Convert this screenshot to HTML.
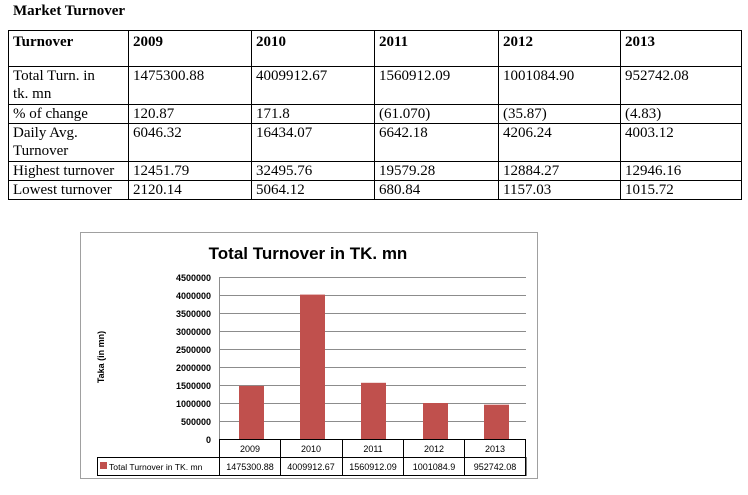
<!DOCTYPE html>
<html><head><meta charset="utf-8"><style>
body{margin:0;width:748px;height:495px;background:#fff;position:relative;overflow:hidden;font-family:"Liberation Serif",serif;}
.t{position:absolute;left:13px;top:3px;font-weight:bold;font-size:15px;}
table{position:absolute;left:8px;top:30px;border-collapse:collapse;font-size:15px;line-height:18px;}
td{border:1px solid #000;vertical-align:top;padding:0 0 0 4px;}
</style></head><body>
<div class="t">Market Turnover</div>
<table>
<colgroup><col style="width:120px"><col style="width:123px"><col style="width:123px"><col style="width:124px"><col style="width:122px"><col style="width:121px"></colgroup>
<tr style="height:36px;font-weight:bold"><td style="padding-top:2px">Turnover</td><td style="padding-top:2px">2009</td><td style="padding-top:2px">2010</td><td style="padding-top:2px">2011</td><td style="padding-top:2px">2012</td><td style="padding-top:2px">2013</td></tr>
<tr style="height:38px"><td>Total Turn. in<br>tk. mn</td><td>1475300.88</td><td>4009912.67</td><td>1560912.09</td><td>1001084.90</td><td>952742.08</td></tr>
<tr style="height:18px"><td>% of change</td><td>120.87</td><td>171.8</td><td>(61.070)</td><td>(35.87)</td><td>(4.83)</td></tr>
<tr style="height:38px"><td>Daily Avg.<br>Turnover</td><td>6046.32</td><td>16434.07</td><td>6642.18</td><td>4206.24</td><td>4003.12</td></tr>
<tr style="height:19px"><td>Highest turnover</td><td>12451.79</td><td>32495.76</td><td>19579.28</td><td>12884.27</td><td>12946.16</td></tr>
<tr style="height:19px"><td>Lowest turnover</td><td>2120.14</td><td>5064.12</td><td>680.84</td><td>1157.03</td><td>1015.72</td></tr>
</table>
<svg style="position:absolute;left:0;top:0" width="748" height="495" font-family="Liberation Sans, sans-serif">
<rect x="80.5" y="232.5" width="457" height="246" fill="#fff" stroke="#a0a0a0"/>
<text x="308" y="259" font-size="17" font-weight="bold" text-anchor="middle">Total Turnover in TK. mn</text>
<g stroke="#8c8c8c" stroke-width="1">
<line x1="220" y1="277.5" x2="526" y2="277.5"/><line x1="220" y1="295.5" x2="526" y2="295.5"/><line x1="220" y1="313.5" x2="526" y2="313.5"/><line x1="220" y1="331.5" x2="526" y2="331.5"/><line x1="220" y1="349.5" x2="526" y2="349.5"/><line x1="220" y1="367.5" x2="526" y2="367.5"/><line x1="220" y1="385.5" x2="526" y2="385.5"/><line x1="220" y1="403.5" x2="526" y2="403.5"/><line x1="220" y1="421.5" x2="526" y2="421.5"/>
<line x1="219.5" y1="277" x2="219.5" y2="439"/>
</g>
<g fill="#c0504d">
<rect x="239" y="385.9" width="25" height="53.1"/>
<rect x="300" y="294.6" width="25" height="144.4"/>
<rect x="361" y="382.8" width="25" height="56.2"/>
<rect x="423" y="403" width="25" height="36"/>
<rect x="484" y="404.7" width="25" height="34.3"/>
</g>
<g stroke="#000" stroke-width="1" fill="none">
<line x1="219.5" y1="439.5" x2="526" y2="439.5"/>
<rect x="97.5" y="457.5" width="428.5" height="18"/>
<line x1="219.5" y1="439" x2="219.5" y2="476"/><line x1="280.5" y1="439" x2="280.5" y2="476"/><line x1="342.5" y1="439" x2="342.5" y2="476"/><line x1="403.5" y1="439" x2="403.5" y2="476"/><line x1="464.5" y1="439" x2="464.5" y2="476"/><line x1="525.5" y1="439" x2="525.5" y2="476"/>
</g>
<g font-size="9" font-weight="bold" text-anchor="end">
<text x="211" y="281">4500000</text><text x="211" y="299">4000000</text><text x="211" y="317">3500000</text><text x="211" y="335">3000000</text><text x="211" y="353">2500000</text><text x="211" y="371">2000000</text><text x="211" y="389">1500000</text><text x="211" y="407">1000000</text><text x="211" y="425">500000</text><text x="211" y="443">0</text>
</g>
<text transform="translate(104,357) rotate(-90)" font-size="9" font-weight="bold" text-anchor="middle">Taka (in mn)</text>
<g font-size="9" text-anchor="middle">
<text x="250" y="452">2009</text><text x="311" y="452">2010</text><text x="373" y="452">2011</text><text x="434" y="452">2012</text><text x="495" y="452">2013</text>
<text x="250" y="470">1475300.88</text><text x="311" y="470">4009912.67</text><text x="373" y="470">1560912.09</text><text x="434" y="470">1001084.9</text><text x="495" y="470">952742.08</text>
</g>
<rect x="100" y="462" width="7" height="7" fill="#c0504d"/>
<text x="109" y="470" font-size="8.6">Total Turnover in TK. mn</text>
</svg>
</body></html>
